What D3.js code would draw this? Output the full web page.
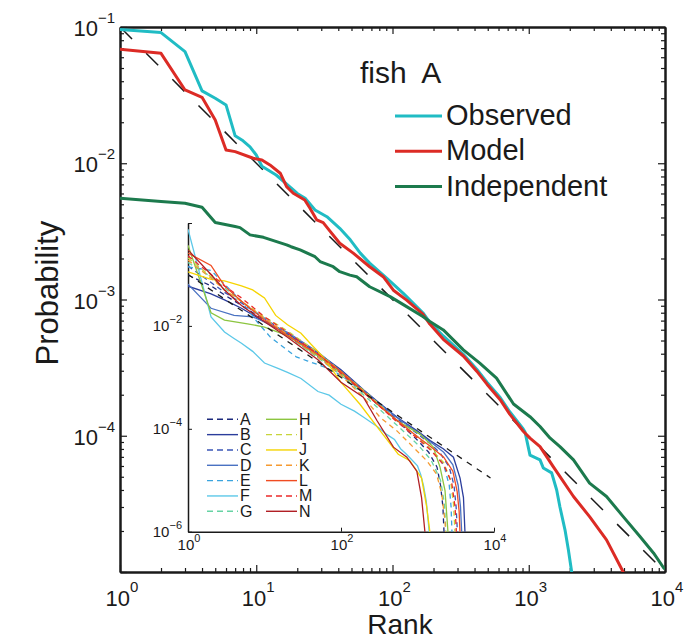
<!DOCTYPE html>
<html><head><meta charset="utf-8">
<script src="https://cdn.jsdelivr.net/npm/d3@7"></script>
<style>
body{margin:0;background:#fff}
svg{display:block}
text{font-family:"Liberation Sans",Arial,Helvetica,sans-serif;fill:#1a1a1a}
</style>
</head><body>
<svg id="c" width="687" height="640"></svg>
<script>
// ---------- DATA (rank, probability) ----------
const observed = [[1,0.096],[2,0.091],[3,0.066],[4,0.034],[5,0.030],[6,0.0268],[7,0.0159],[8,0.0146],[9,0.0132],[10,0.0115],[11,0.0095],[14,0.0082],[18,0.0066],[20,0.0060],[23,0.0055],[27,0.00454],[33,0.00405],[41,0.00333],[49,0.00274],[58,0.00219],[68,0.00185],[91,0.00143],[120,0.00111],[167,0.00080],[188,0.00068],[236,0.000540],[331,0.000396],[415,0.000308],[495,0.000246],[617,0.000191],[725,0.000150],[911,0.000112],[938,0.000107],[1021,7.2e-5],[1210,6.65e-5],[1279,5.8e-5],[1473,5.34e-5],[1603,4.0e-5],[1694,3.0e-5],[1845,2.04e-5],[1952,1.46e-5],[2066,1.0e-5],[2100,9e-6]];
const model = [[1,0.0686],[2,0.0641],[3,0.0345],[4,0.0305],[5,0.0208],[6,0.01253],[7,0.01217],[9.5,0.01088],[11,0.01058],[12.6,0.00972],[15,0.00845],[16.7,0.00674],[18.7,0.00602],[22.7,0.00538],[24.8,0.00468],[27.8,0.00384],[31,0.00367],[35,0.00315],[41,0.00259],[51.5,0.00219],[68,0.00174],[85.5,0.00147],[101.5,0.00117],[127,0.00099],[167,0.00078],[188,0.00066],[236,0.00051],[331,0.000385],[415,0.000298],[495,0.000238],[617,0.000184],[725,0.000144],[911,0.000108],[1021,9.6e-5],[1210,8.33e-5],[1512,5.94e-5],[2130,3.58e-5],[2795,2.55e-5],[3722,1.72e-5],[4935,1.0e-5],[5100,9e-6]];
const independent = [[1,0.00553],[2,0.00523],[3,0.00508],[4,0.00475],[5,0.00367],[7,0.00343],[7.6,0.00337],[9,0.00298],[11.3,0.00286],[14.1,0.00266],[16.7,0.00252],[18,0.00244],[21,0.00231],[27,0.00206],[29.4,0.0019],[36.7,0.00174],[41,0.0016],[48.7,0.00151],[54.6,0.00147],[68,0.00124],[96,0.00105],[127,0.000887],[167,0.00075],[188,0.00069],[236,0.000598],[331,0.000427],[437,0.000341],[580,0.000265],[773,0.000171],[1021,0.000138],[1210,0.000117],[1436,9.6e-5],[1694,8.33e-5],[2130,6.65e-5],[2795,4.49e-5],[3722,3.58e-5],[4935,2.55e-5],[6550,1.82e-5],[8230,1.38e-5],[9790,1.07e-5],[10000,1.05e-5]];
const powerLaw = [[1,0.1],[10000,1e-5]];
const insetPowerLaw = [[1,0.1],[9000,1.11e-5]];

const fishA = [[1,0.097],[2,0.06],[3,0.04],[5,0.025],[10,0.013],[20,0.0065],[50,0.0025],[100,0.0012],[200,0.0005],[300,0.0003],[500,0.00016],[700,0.0001],[1000,6e-5],[1400,3.5e-5],[1800,1.8e-5],[2000,8e-6],[2150,3e-6],[2220,1e-6]];
const fishB = [[1,0.059],[2,0.042],[3,0.032],[5,0.022],[10,0.012],[20,0.007],[50,0.003],[100,0.0014],[200,0.00056],[300,0.00034],[540,0.000167],[1000,9e-5],[1460,5.9e-5],[2170,4.1e-5],[2950,2.8e-5],[3600,1.1e-5],[3990,4.6e-6],[4170,1e-6]];
const fishC = [[1,0.145],[2,0.07],[3,0.045],[5,0.028],[10,0.014],[20,0.007],[50,0.0028],[100,0.0013],[200,0.00052],[300,0.00032],[500,0.00017],[1000,8e-5],[1500,5e-5],[2000,3.3e-5],[2600,1.8e-5],[3000,8e-6],[3200,3e-6],[3320,1e-6]];
const fishD = [[1,0.065],[2,0.022],[4,0.016],[7,0.015],[10,0.012],[20,0.0075],[50,0.0031],[100,0.0013],[200,0.00055],[300,0.00033],[500,0.00018],[1000,8.5e-5],[1500,5.5e-5],[2200,3.5e-5],[2900,2e-5],[3400,8e-6],[3650,3e-6],[3780,1e-6]];
const fishE = [[1,0.14],[2,0.12],[3,0.065],[5,0.03],[8,0.012],[12,0.006],[26,0.0025],[36,0.0021],[60,0.0016],[100,0.0011],[200,0.0005],[300,0.0003],[500,0.00016],[1000,7e-5],[1500,4e-5],[2200,2e-5],[2600,8e-6],[2750,3e-6],[2820,1e-6]];
const fishF = [[1,0.76],[2,0.0149],[3,0.0076],[4,0.0057],[5,0.0046],[7,0.0032],[10,0.0019],[15,0.0015],[20,0.00125],[30,0.00095],[50,0.00053],[70,0.00045],[100,0.0003],[150,0.00022],[200,0.000166],[300,0.00011],[400,7.7e-5],[500,6.2e-5],[600,4.1e-5],[700,3.3e-5],[800,2.7e-5],[1000,1.9e-5],[1100,1.3e-5],[1200,7.8e-6],[1300,4e-6],[1380,1.6e-6],[1420,1e-6]];
const fishG = [[1,0.17],[2,0.09],[3,0.055],[5,0.03],[10,0.014],[20,0.0065],[50,0.0024],[100,0.0011],[200,0.00045],[300,0.00026],[500,0.00013],[1000,5e-5],[1500,2.5e-5],[2000,1e-5],[2250,3.5e-6],[2350,1e-6]];
const fishH = [[1,0.37],[2,0.018],[3,0.013],[6,0.011],[10,0.0095],[20,0.0065],[50,0.0026],[100,0.0012],[200,0.0005],[300,0.0003],[535,0.000145],[1079,7.9e-5],[1610,4.4e-5],[1970,1.8e-5],[2290,6.3e-6],[2500,1e-6]];
const fishI = [[1,0.21],[2,0.09],[3,0.05],[5,0.03],[10,0.015],[20,0.008],[50,0.003],[100,0.0013],[200,0.00055],[300,0.00032],[500,0.00016],[1000,7e-5],[1500,4e-5],[2200,2.2e-5],[2700,1e-5],[2950,3.5e-6],[3090,1e-6]];
const fishJ = [[1,0.112],[2,0.08],[3,0.075],[5,0.06],[7,0.05],[10,0.035],[14,0.016],[20,0.0105],[30,0.0072],[40,0.0045],[60,0.0024],[100,0.0008],[177,0.0003],[324,9.2e-5],[560,3.2e-5],[795,2.4e-5],[1130,1.1e-5],[1320,3e-6],[1450,1e-6]];
const fishK = [[1,0.19],[2,0.085],[3,0.05],[5,0.03],[10,0.014],[20,0.0068],[50,0.0025],[100,0.0011],[200,0.0004],[324,0.000167],[535,9.2e-5],[880,4.4e-5],[1320,2.4e-5],[1780,1.3e-5],[2080,5.3e-6],[2290,1.6e-6],[2330,1e-6]];
const fishL = [[1,0.26],[2,0.15],[3,0.06],[5,0.03],[10,0.013],[20,0.0065],[50,0.0028],[100,0.0013],[200,0.00052],[300,0.0003],[500,0.00016],[1000,7e-5],[1500,4.5e-5],[2200,2.8e-5],[2900,1.5e-5],[3300,6e-6],[3500,2.5e-6],[3590,1e-6]];
const fishM = [[1,0.23],[2,0.1],[3,0.06],[5,0.035],[10,0.015],[20,0.0075],[50,0.0028],[100,0.0012],[200,0.0005],[300,0.0003],[500,0.00015],[1000,6.5e-5],[1500,3.8e-5],[2200,2e-5],[2800,9e-6],[3100,3e-6],[3220,1e-6]];
const fishN = [[1,0.30],[2,0.1],[3,0.05],[5,0.025],[10,0.012],[20,0.006],[50,0.0022],[100,0.0008],[196,0.00041],[295,0.000145],[485,4.4e-5],[725,2.8e-5],[980,1.5e-5],[1130,4.6e-6],[1250,1e-6]];

const insetKeys = ['A','B','C','D','E','F','G','H','I','J','K','L','M','N'];
const mainSeriesNames = ['Observed','Model','Independent'];
const titleText = 'fish A';
const xLabel = 'Rank';
const yLabel = 'Probability';

// ---------- STYLE ----------
const mainColors = {Observed:'#20bcc4', Model:'#dc2b25', Independent:'#1c7a4d'};
const insetStyle = {
  A:{c:'#1d2a7c',d:true}, B:{c:'#2b3d9c',d:false}, C:{c:'#3a55b6',d:true}, D:{c:'#4a72c2',d:false},
  E:{c:'#3aa4de',d:true}, F:{c:'#5cc8e8',d:false}, G:{c:'#66d3a4',d:true}, H:{c:'#8cc540',d:false},
  I:{c:'#c8d43a',d:true}, J:{c:'#f5d400',d:false}, K:{c:'#f59a30',d:true}, L:{c:'#f04c22',d:false},
  M:{c:'#ec2a2a',d:true}, N:{c:'#b11f25',d:false}
};
const mainData = {Observed:observed, Model:model, Independent:independent};
const insetData = {A:fishA,B:fishB,C:fishC,D:fishD,E:fishE,F:fishF,G:fishG,H:fishH,I:fishI,J:fishJ,K:fishK,L:fishL,M:fishM,N:fishN};

const svg = d3.select('#c');
const ink = '#1a1a1a';

// main scales
const x = d3.scaleLog().domain([1,1e4]).range([120,665]);
const y = d3.scaleLog().domain([1e-5,1e-1]).range([572,27]);

function decadeTicks(lo, hi){
  const maj=[], min=[];
  for(let e=lo;e<=hi;e++){ maj.push(Math.pow(10,e)); if(e<hi) for(let k=2;k<10;k++) min.push(k*Math.pow(10,e)); }
  return {maj,min};
}
const xt = decadeTicks(0,4), yt = decadeTicks(-5,-1);

function styleAxis(g, dw, tw){
  g.selectAll('.domain').attr('stroke',ink).attr('stroke-width',dw);
  g.selectAll('.tick line').attr('stroke',ink).attr('stroke-width',tw);
  g.selectAll('.tick text').remove();
}
function addAxis(axisFn, scale, vals, size, tr, dw){
  const g = svg.append('g').attr('transform',tr)
    .call(axisFn(scale).tickValues(vals).tickSizeInner(-size).tickSizeOuter(0).tickFormat(''));
  styleAxis(g, dw, 1.2);
  return g;
}
// main box axes
addAxis(d3.axisBottom, x, xt.min, 4, 'translate(0,572)', 2);
addAxis(d3.axisBottom, x, xt.maj, 7, 'translate(0,572)', 2);
addAxis(d3.axisTop, x, xt.min, 4, 'translate(0,27)', 2);
addAxis(d3.axisTop, x, xt.maj, 7, 'translate(0,27)', 2);
addAxis(d3.axisLeft, y, yt.min, 4, 'translate(120,0)', 2);
addAxis(d3.axisLeft, y, yt.maj, 7, 'translate(120,0)', 2);
addAxis(d3.axisRight, y, yt.min, 4, 'translate(665,0)', 2);
addAxis(d3.axisRight, y, yt.maj, 7, 'translate(665,0)', 2);

function supText(px, py, anchor, base, exp, fs, sfs, raise){
  const t = svg.append('text').attr('x',px).attr('y',py).attr('text-anchor',anchor).attr('font-size',fs);
  t.append('tspan').text(base);
  t.append('tspan').attr('dy',-raise).attr('font-size',sfs).text(exp);
  return t;
}
const expStr = v => { const e=Math.round(Math.log10(v)); return e<0 ? '\u2212'+(-e) : String(e); };

// main tick labels
xt.maj.forEach(v => supText(x(v)+2, 606, 'middle', '10', expStr(v), 22, 15, 14));
yt.maj.filter(v=>v>1e-5).forEach(v => supText(115, y(v)+9, 'end', '10', expStr(v), 22, 15, 13));

// axis titles
svg.append('text').attr('x',400).attr('y',634).attr('text-anchor','middle').attr('font-size',28).text(xLabel);
svg.append('text').attr('transform','translate(58,293) rotate(-90)').attr('text-anchor','middle').attr('font-size',31).text(yLabel);

// clip
const defs = svg.append('defs');
defs.append('clipPath').attr('id','mclip').append('rect').attr('x',120).attr('y',27).attr('width',545).attr('height',545);

const line = d3.line().x(d=>x(d[0])).y(d=>y(d[1]));
const mg = svg.append('g').attr('clip-path','url(#mclip)');
mg.append('path').datum(powerLaw).attr('d',line).attr('fill','none').attr('stroke','#1a1a1a')
  .attr('stroke-width',1.5).attr('stroke-dasharray','17,20');
mainSeriesNames.forEach(n=>{
  mg.append('path').datum(mainData[n]).attr('d',line).attr('fill','none')
    .attr('stroke',mainColors[n]).attr('stroke-width',3).attr('stroke-linejoin','round');
});

// title & legend
svg.append('text').attr('x',360).attr('y',83).attr('font-size',30).attr('word-spacing',8).text(titleText);
mainSeriesNames.forEach((n,i)=>{
  const ly = 116 + i*35.3;
  svg.append('line').attr('x1',395).attr('x2',442).attr('y1',ly).attr('y2',ly)
    .attr('stroke',mainColors[n]).attr('stroke-width',3);
  svg.append('text').attr('x',446).attr('y',ly+9).attr('font-size',29).text(n);
});

// ---------- INSET ----------
const xi = d3.scaleLog().domain([1,1e4]).range([188,494]);
const yi = d3.scaleLog().domain([1e-6,1]).range([531.7,223]);
const gIx = svg.append('g').attr('transform','translate(0,531.7)')
  .call(d3.axisBottom(xi).tickValues([1,1e2,1e4]).tickSizeInner(-4).tickSizeOuter(0).tickFormat(''));
styleAxis(gIx,1.5,1);
const gIy = svg.append('g').attr('transform','translate(188,0)')
  .call(d3.axisLeft(yi).tickValues([1e-6,1e-4,1e-2,1]).tickSizeInner(-4).tickSizeOuter(0).tickFormat(''));
styleAxis(gIy,1.5,1);
[1,1e2,1e4].forEach(v => supText(xi(v)+1, 550, 'middle', '10', expStr(v), 15, 11, 8));
[1e-6,1e-4,1e-2].forEach(v => supText(182, yi(v)+5, 'end', '10', expStr(v), 15, 11, 8));

defs.append('clipPath').attr('id','iclip').append('rect').attr('x',188).attr('y',223).attr('width',306).attr('height',309);
const iline = d3.line().x(d=>xi(d[0])).y(d=>yi(d[1]));
const ig = svg.append('g').attr('clip-path','url(#iclip)');
insetKeys.forEach(k=>{
  const s = insetStyle[k];
  ig.append('path').datum(insetData[k]).attr('d',iline).attr('fill','none')
    .attr('stroke',s.c).attr('stroke-width',1.3).attr('stroke-dasharray', s.d ? '5,4' : null);
});
ig.append('path').datum(insetPowerLaw).attr('d',iline).attr('fill','none').attr('stroke','#1a1a1a')
  .attr('stroke-width',1.3).attr('stroke-dasharray','6,6');

// inset legend
insetKeys.forEach((k,i)=>{
  const col = i<7 ? 0 : 1, row = i%7;
  const lx = col===0 ? 207 : 266;
  const ly = 419.3 + row*15.33;
  const s = insetStyle[k];
  svg.append('line').attr('x1',lx).attr('x2',lx+31).attr('y1',ly).attr('y2',ly)
    .attr('stroke',s.c).attr('stroke-width',1.4).attr('stroke-dasharray', s.d ? '6,4' : null);
  svg.append('text').attr('x',lx+33).attr('y',ly+5.5).attr('font-size',16).text(k);
});
</script>
</body></html>
